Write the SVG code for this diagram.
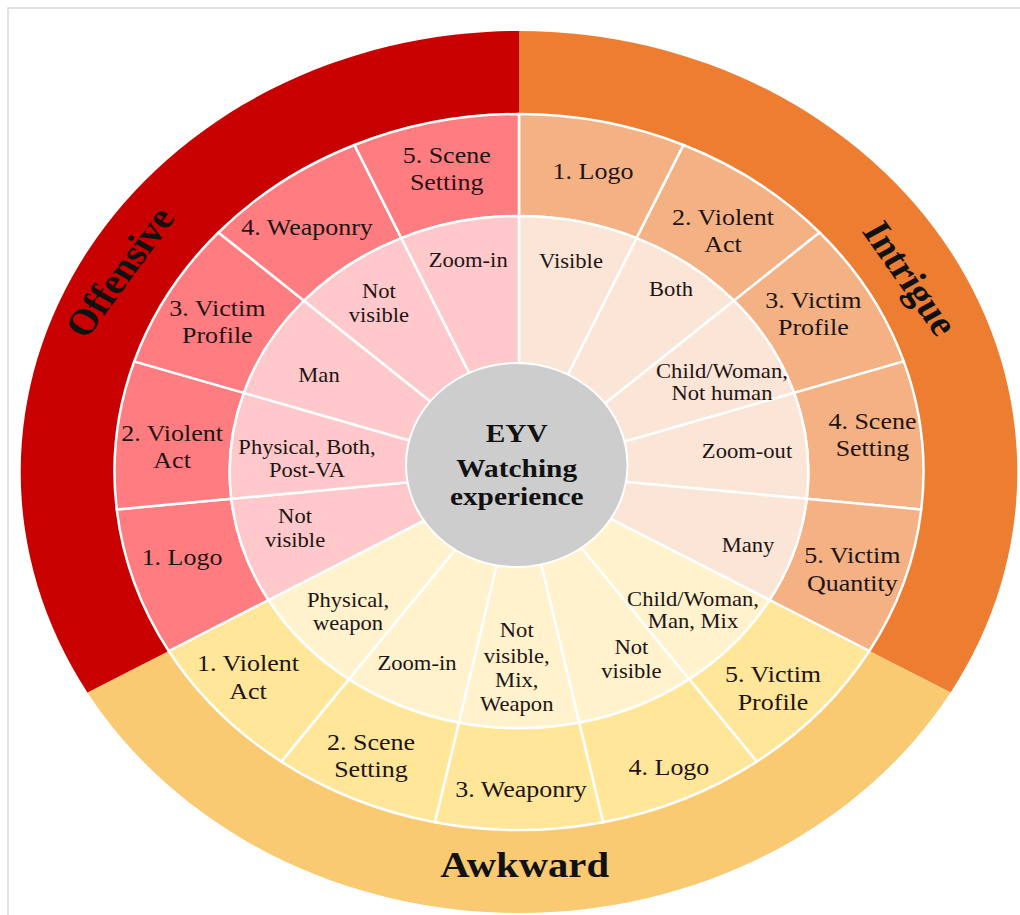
<svg xmlns="http://www.w3.org/2000/svg" width="1020" height="915" viewBox="0 0 1020 915">
<style>
.seg{stroke:#fff;stroke-width:2.5;vector-effect:non-scaling-stroke;stroke-linejoin:round}
text{font-family:"Liberation Serif","Times New Roman",serif;fill:#1e1414;text-anchor:middle}
.m{font-size:23px}
.i{font-size:20px}
.c{font-size:26px;font-weight:bold;fill:#111}
.cat{font-size:36px;font-weight:bold;fill:#111}
.o1{fill:#FF7C80}.o2{fill:#FFC8CA}.t1{fill:#F4B183}.t2{fill:#FBE5D6}.a1{fill:#FFE699}.a2{fill:#FFF2CC}
</style>
<rect x="0" y="0" width="1020" height="915" fill="#fff"/>
<rect x="8" y="8" width="1030" height="930" fill="none" stroke="#d9d9d9" stroke-width="1.5"/>
<g transform="translate(519,472) scale(1.13,1)">
  <g id="cat-intrigue">
    <path d="M0,0 L0,-441 A441 441 0 0 1 381.9,220.5 Z" fill="#ED7D31"/>
  </g>
  <g id="cat-awkward">
    <path d="M0,0 L381.9,220.5 A441 441 0 0 1 -381.9,220.5 Z" fill="#F9CA72"/>
  </g>
  <g id="cat-offensive">
    <path d="M0,0 L-381.9,220.5 A441 441 0 0 1 0,-441 Z" fill="#C90000"/>
  </g>

  <!-- middle ring -->
  <g id="int-logo"><path class="seg t1" d="M0,-358 A358 358 0 0 1 145.6,-327 L104.1,-233.9 A256 256 0 0 0 0,-256 Z"/></g>
  <g id="int-violent"><path class="seg t1" d="M145.6,-327 A358 358 0 0 1 266,-239.5 L190.2,-171.3 A256 256 0 0 0 104.1,-233.9 Z"/></g>
  <g id="int-victim"><path class="seg t1" d="M266,-239.5 A358 358 0 0 1 340.5,-110.6 L243.5,-79.1 A256 256 0 0 0 190.2,-171.3 Z"/></g>
  <g id="int-scene"><path class="seg t1" d="M340.5,-110.6 A358 358 0 0 1 356,37.4 L254.6,26.8 A256 256 0 0 0 243.5,-79.1 Z"/></g>
  <g id="int-quantity"><path class="seg t1" d="M356,37.4 A358 358 0 0 1 310,179 L221.7,128 A256 256 0 0 0 254.6,26.8 Z"/></g>
  <g id="awk-victim"><path class="seg a1" d="M310,179 A358 358 0 0 1 210.4,289.6 L150.5,207.1 A256 256 0 0 0 221.7,128 Z"/></g>
  <g id="awk-logo"><path class="seg a1" d="M210.4,289.6 A358 358 0 0 1 74.4,350.2 L53.2,250.4 A256 256 0 0 0 150.5,207.1 Z"/></g>
  <g id="awk-weaponry"><path class="seg a1" d="M74.4,350.2 A358 358 0 0 1 -74.4,350.2 L-53.2,250.4 A256 256 0 0 0 53.2,250.4 Z"/></g>
  <g id="awk-scene"><path class="seg a1" d="M-74.4,350.2 A358 358 0 0 1 -210.4,289.6 L-150.5,207.1 A256 256 0 0 0 -53.2,250.4 Z"/></g>
  <g id="awk-violent"><path class="seg a1" d="M-210.4,289.6 A358 358 0 0 1 -310,179 L-221.7,128 A256 256 0 0 0 -150.5,207.1 Z"/></g>
  <g id="off-logo"><path class="seg o1" d="M-310,179 A358 358 0 0 1 -356,37.4 L-254.6,26.8 A256 256 0 0 0 -221.7,128 Z"/></g>
  <g id="off-violent"><path class="seg o1" d="M-356,37.4 A358 358 0 0 1 -340.5,-110.6 L-243.5,-79.1 A256 256 0 0 0 -254.6,26.8 Z"/></g>
  <g id="off-victim"><path class="seg o1" d="M-340.5,-110.6 A358 358 0 0 1 -266,-239.5 L-190.2,-171.3 A256 256 0 0 0 -243.5,-79.1 Z"/></g>
  <g id="off-weaponry"><path class="seg o1" d="M-266,-239.5 A358 358 0 0 1 -145.6,-327 L-104.1,-233.9 A256 256 0 0 0 -190.2,-171.3 Z"/></g>
  <g id="off-scene"><path class="seg o1" d="M-145.6,-327 A358 358 0 0 1 0,-358 L0,-256 A256 256 0 0 0 -104.1,-233.9 Z"/></g>

  <!-- inner ring -->
  <g id="int-visible"><path class="seg t2" d="M0,0 L0,-256 A256 256 0 0 1 104.1,-233.9 Z"/></g>
  <g id="int-both"><path class="seg t2" d="M0,0 L104.1,-233.9 A256 256 0 0 1 190.2,-171.3 Z"/></g>
  <g id="int-child"><path class="seg t2" d="M0,0 L190.2,-171.3 A256 256 0 0 1 243.5,-79.1 Z"/></g>
  <g id="int-zoomout"><path class="seg t2" d="M0,0 L243.5,-79.1 A256 256 0 0 1 254.6,26.8 Z"/></g>
  <g id="int-many"><path class="seg t2" d="M0,0 L254.6,26.8 A256 256 0 0 1 221.7,128 Z"/></g>
  <g id="awk-childman"><path class="seg a2" d="M0,0 L221.7,128 A256 256 0 0 1 150.5,207.1 Z"/></g>
  <g id="awk-notvisible"><path class="seg a2" d="M0,0 L150.5,207.1 A256 256 0 0 1 53.2,250.4 Z"/></g>
  <g id="awk-notvismix"><path class="seg a2" d="M0,0 L53.2,250.4 A256 256 0 0 1 -53.2,250.4 Z"/></g>
  <g id="awk-zoomin"><path class="seg a2" d="M0,0 L-53.2,250.4 A256 256 0 0 1 -150.5,207.1 Z"/></g>
  <g id="awk-physical"><path class="seg a2" d="M0,0 L-150.5,207.1 A256 256 0 0 1 -221.7,128 Z"/></g>
  <g id="off-notvisible2"><path class="seg o2" d="M0,0 L-221.7,128 A256 256 0 0 1 -254.6,26.8 Z"/></g>
  <g id="off-physical"><path class="seg o2" d="M0,0 L-254.6,26.8 A256 256 0 0 1 -243.5,-79.1 Z"/></g>
  <g id="off-man"><path class="seg o2" d="M0,0 L-243.5,-79.1 A256 256 0 0 1 -190.2,-171.3 Z"/></g>
  <g id="off-notvisible"><path class="seg o2" d="M0,0 L-190.2,-171.3 A256 256 0 0 1 -104.1,-233.9 Z"/></g>
  <g id="off-zoomin"><path class="seg o2" d="M0,0 L-104.1,-233.9 A256 256 0 0 1 0,-256 Z"/></g>

  <g id="center">
    <ellipse cx="-2" cy="-7" rx="98" ry="102" fill="#CDCDCD" stroke="#fff" stroke-width="2" vector-effect="non-scaling-stroke"/>
    <text class="c"><tspan x="-2" y="-30">EYV</tspan><tspan x="-2" y="5">Watching</tspan><tspan x="-2" y="33">experience</tspan></text>
  </g>

  <g id="labels">
    <text class="cat" transform="translate(-354,-200) rotate(-57)" dy="0.35em">Offensive</text>
    <text class="cat" transform="translate(347,-194) rotate(58)" dy="0.35em">Intrigue</text>
    <text class="cat" x="5" y="405">Awkward</text>

    <text class="m"><tspan x="65.5" y="-293">1. Logo</tspan></text>
    <text class="m"><tspan x="180.5" y="-247">2. Violent</tspan><tspan x="180.5" y="-220">Act</tspan></text>
    <text class="m"><tspan x="260.5" y="-164">3. Victim</tspan><tspan x="260.5" y="-137">Profile</tspan></text>
    <text class="m"><tspan x="312.8" y="-43">4. Scene</tspan><tspan x="312.8" y="-16">Setting</tspan></text>
    <text class="m"><tspan x="295" y="91">5. Victim</tspan><tspan x="295" y="119">Quantity</tspan></text>

    <text class="m"><tspan x="224.8" y="210">5. Victim</tspan><tspan x="224.8" y="238">Profile</tspan></text>
    <text class="m"><tspan x="132.7" y="303">4. Logo</tspan></text>
    <text class="m"><tspan x="1.8" y="325">3. Weaponry</tspan></text>
    <text class="m"><tspan x="-131" y="278">2. Scene</tspan><tspan x="-131" y="305">Setting</tspan></text>
    <text class="m"><tspan x="-239.8" y="199">1. Violent</tspan><tspan x="-239.8" y="227">Act</tspan></text>

    <text class="m"><tspan x="-298.2" y="93">1. Logo</tspan></text>
    <text class="m"><tspan x="-307" y="-31">2. Violent</tspan><tspan x="-307" y="-4">Act</tspan></text>
    <text class="m"><tspan x="-267" y="-156">3. Victim</tspan><tspan x="-267" y="-129">Profile</tspan></text>
    <text class="m"><tspan x="-187.6" y="-237">4. Weaponry</tspan></text>
    <text class="m"><tspan x="-64" y="-309">5. Scene</tspan><tspan x="-64" y="-282">Setting</tspan></text>

    <text class="i"><tspan x="46" y="-204">Visible</tspan></text>
    <text class="i"><tspan x="134.5" y="-176">Both</tspan></text>
    <text class="i"><tspan x="179.6" y="-94">Child/Woman,</tspan><tspan x="179.6" y="-72">Not human</tspan></text>
    <text class="i"><tspan x="201.8" y="-14">Zoom-out</tspan></text>
    <text class="i"><tspan x="202.7" y="80">Many</tspan></text>

    <text class="i"><tspan x="154" y="134">Child/Woman,</tspan><tspan x="154" y="156">Man, Mix</tspan></text>
    <text class="i"><tspan x="99.5" y="182">Not</tspan><tspan x="99.5" y="206">visible</tspan></text>
    <text class="i"><tspan x="-2" y="165">Not</tspan><tspan x="-2" y="191">visible,</tspan><tspan x="-2" y="215">Mix,</tspan><tspan x="-2" y="239">Weapon</tspan></text>
    <text class="i"><tspan x="-90.3" y="198">Zoom-in</tspan></text>
    <text class="i"><tspan x="-151.3" y="135">Physical,</tspan><tspan x="-151.3" y="158">weapon</tspan></text>

    <text class="i"><tspan x="-198.2" y="51">Not</tspan><tspan x="-198.2" y="75">visible</tspan></text>
    <text class="i"><tspan x="-187.6" y="-18">Physical, Both,</tspan><tspan x="-187.6" y="5">Post-VA</tspan></text>
    <text class="i"><tspan x="-177" y="-90">Man</tspan></text>
    <text class="i"><tspan x="-124" y="-174">Not</tspan><tspan x="-124" y="-150">visible</tspan></text>
    <text class="i"><tspan x="-45" y="-205">Zoom-in</tspan></text>
  </g>
</g>
<g id="connectors"/>
</svg>
